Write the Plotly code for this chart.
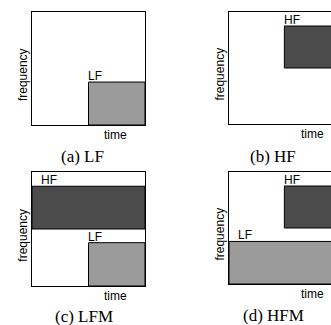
import plotly.graph_objects as go

# ---- data ----
captions = ["(a) LF", "(b) HF", "(c) LFM", "(d) HFM"]
lf_time = [[0.5, 1.0], None, [0.5, 1.0], [0.0, 1.0]]
hf_time = [None, [0.49, 1.0], [0.0, 1.0], [0.49, 1.0]]
lf_freq = [0.0, 0.38]
hf_freq = [0.5, 0.875]
x_label = "time"
y_label = "frequency"

W, H = 331, 325
LF_COLOR = "#9b9b9b"
HF_COLOR = "#4b4b4b"
SANS = "Liberation Sans, Arial, sans-serif"
SERIF = "Liberation Serif, Times New Roman, serif"

# panel frames in pixels: left, top, bottom ; width 113 px per unit of time
frames = [(32, 12, 125), (229, 12, 124), (32, 172, 286), (229, 172, 284)]
cap_pos = [(82, 156), (273, 156), (84, 316), (273, 315)]
UNIT = 113.0

fig = go.Figure()
layout = dict(width=W, height=H, margin=dict(l=0, r=0, t=0, b=0),
              paper_bgcolor="white", plot_bgcolor="white", showlegend=False)
shapes, annos = [], []

for i, (left, top, bottom) in enumerate(frames):
    n = i + 1
    xa = "x" if n == 1 else f"x{n}"
    ya = "y" if n == 1 else f"y{n}"
    xk = "xaxis" if n == 1 else f"xaxis{n}"
    yk = "yaxis" if n == 1 else f"yaxis{n}"
    right = min(left + UNIT, W)
    xmax = (right - left) / UNIT
    right_side = right >= W
    layout[xk] = dict(domain=[left / W, right / W], range=[0, xmax], anchor=ya,
                      showline=True, linecolor="black", linewidth=1, mirror=True,
                      showticklabels=False, ticks="", showgrid=False, zeroline=False,
                      fixedrange=True)
    layout[yk] = dict(domain=[1 - bottom / H, 1 - top / H], range=[0, 1], anchor=xa,
                      showline=True, linecolor="black", linewidth=1,
                      mirror=(not right_side),
                      showticklabels=False, ticks="", showgrid=False, zeroline=False,
                      fixedrange=True)

    # invisible trace to register the subplot
    fig.add_trace(go.Scatter(x=[0], y=[0], mode="markers", marker=dict(opacity=0),
                             xaxis=xa, yaxis=ya, hoverinfo="skip"))

    for rng, freq, col, name in ((hf_time[i], hf_freq, HF_COLOR, "HF"),
                                 (lf_time[i], lf_freq, LF_COLOR, "LF")):
        if rng is None:
            continue
        shapes.append(dict(type="rect", xref=xa, yref=ya, x0=rng[0], x1=rng[1],
                           y0=freq[0], y1=freq[1], fillcolor=col,
                           line=dict(color="black", width=1), layer="above"))
        lx = rng[0] + (0.06 if rng[0] == 0 else -0.02)
        annos.append(dict(xref=xa, yref=ya, x=lx, y=freq[1], text=name,
                          showarrow=False, xanchor="left", yanchor="bottom",
                          yshift=-3, font=dict(family=SANS, size=12, color="black")))

    # axis labels (domain coordinates so they are not hidden outside the range)
    annos.append(dict(xref=f"{xa} domain", yref=f"{ya} domain", x=0.74 / xmax,
                      y=-0.085, text=x_label,
                      showarrow=False, xanchor="center", yanchor="middle",
                      font=dict(family=SANS, size=12, color="black")))
    annos.append(dict(xref=f"{xa} domain", yref=f"{ya} domain", x=-0.08 / xmax,
                      y=0.45, text=y_label, textangle=-90,
                      showarrow=False, xanchor="center", yanchor="middle",
                      font=dict(family=SANS, size=12, color="black")))
    # caption
    cx, cy = cap_pos[i]
    annos.append(dict(xref="paper", yref="paper", x=cx / W, y=1 - cy / H,
                      text=captions[i], showarrow=False, xanchor="center",
                      yanchor="middle", font=dict(family=SERIF, size=17, color="black")))

layout["shapes"] = shapes
layout["annotations"] = annos
fig.update_layout(**layout)
fig.write_html("out.html", config={"displayModeBar": False},
               post_script="document.body.style.margin='0';document.body.style.padding='0';")
